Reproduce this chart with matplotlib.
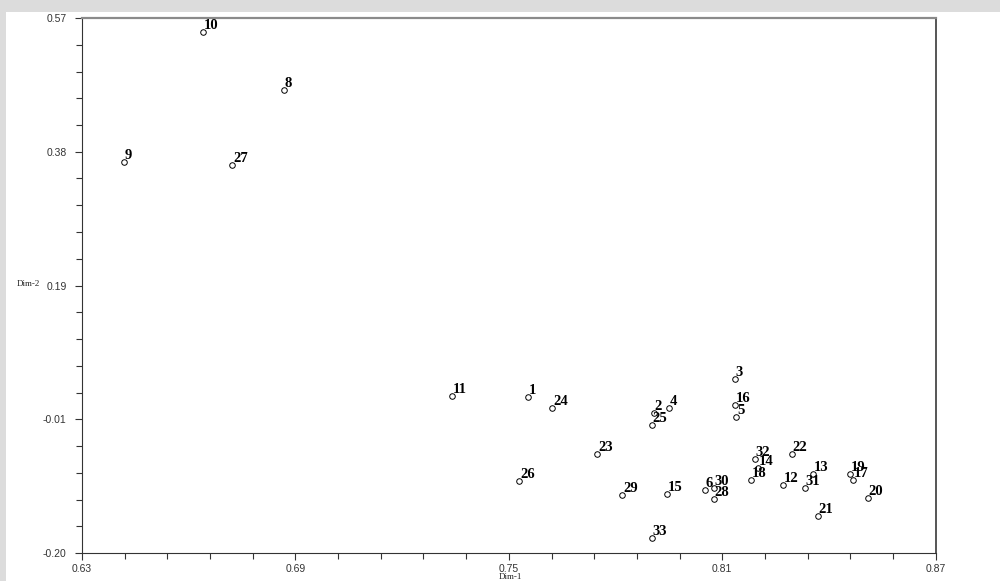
import matplotlib
matplotlib.use('Agg')
import matplotlib.pyplot as plt
from matplotlib.patches import Rectangle
from matplotlib.ticker import FixedLocator

# coordinates of the 32 items on the first two dimensions
labels = ['1', '2', '3', '4', '5', '6', '8', '9', '10', '11', '12', '13', '14', '15', '16', '17',
          '18', '19', '20', '21', '22', '23', '24', '25', '26', '27', '28', '29', '30', '31', '32', '33']
dim1 = [0.7553, 0.7908, 0.8135, 0.7950, 0.8139, 0.8051, 0.6868, 0.6417, 0.6639, 0.7339, 0.8270,
        0.8356, 0.8200, 0.7945, 0.8136, 0.8468, 0.8180, 0.8459, 0.8509, 0.8369, 0.8296, 0.7748,
        0.7622, 0.7902, 0.7529, 0.6722, 0.8076, 0.7819, 0.8076, 0.8332, 0.8192, 0.7902]
dim2 = [0.0249, 0.0015, 0.0500, 0.0082, -0.0043, -0.1094, 0.4668, 0.3623, 0.5503, 0.0264, -0.1017,
        -0.0870, -0.0777, -0.1151, 0.0130, -0.0950, -0.0945, -0.0868, -0.1209, -0.1468, -0.0575, -0.0575,
        0.0091, -0.0154, -0.0968, 0.3589, -0.1227, -0.1161, -0.1069, -0.1060, -0.0652, -0.1784]

xticks = [0.63, 0.69, 0.75, 0.81, 0.87]
yticks = [-0.20, -0.0075, 0.185, 0.3775, 0.57]
ytick_labels = ['-0.20', '-0.01', '0.19', '0.38', '0.57']

fig = plt.figure(figsize=(10, 5.81), dpi=100)
fig.patch.set_facecolor('white')
# grey window frame on top and left
fig.patches.append(Rectangle((0, 1 - 12 / 581), 1, 12 / 581, transform=fig.transFigure,
                             facecolor='#dcdcdc', edgecolor='none', zorder=0))
fig.patches.append(Rectangle((0, 0), 6 / 1000, 1, transform=fig.transFigure,
                             facecolor='#dcdcdc', edgecolor='none', zorder=0))

ax = fig.add_axes([0.082, 28 / 581, 0.8537, 535 / 581])
ax.plot(dim1, dim2, 'o', markersize=4, markerfacecolor='white', markeredgecolor='black',
        markeredgewidth=0.7, linestyle='none', clip_on=False)
for lab, x, y in zip(labels, dim1, dim2):
    ax.annotate(lab, (x, y), xytext=(0.6, 2.2), textcoords='offset points',
                ha='left', va='baseline', fontsize=10.5, fontweight='bold',
                family='Liberation Serif', color='black')

ax.set_xlim(0.63, 0.87)
ax.set_ylim(-0.20, 0.57)
ax.xaxis.set_major_locator(FixedLocator(xticks))
ax.xaxis.set_minor_locator(FixedLocator([0.63 + i * 0.012 for i in range(21)]))
ax.set_xticklabels([f'{t:.2f}' for t in xticks])
ax.yaxis.set_major_locator(FixedLocator(yticks))
ax.yaxis.set_minor_locator(FixedLocator([-0.20 + i * 0.77 / 20 for i in range(21)]))
ax.set_yticklabels(ytick_labels)

ax.tick_params(which='both', direction='out', color='#333333', width=0.8,
               labelsize=7.5, labelcolor='#333333')
ax.tick_params(which='major', length=5, pad=6)
ax.tick_params(which='minor', length=4)
ax.tick_params(axis='x', which='major', pad=3)
for t in ax.get_xticklabels() + ax.get_yticklabels():
    t.set_family('Liberation Sans')

ax.spines['left'].set_color('#333333')
ax.spines['bottom'].set_color('#333333')
ax.spines['top'].set_color('#8a8a8a')
ax.spines['top'].set_linewidth(1.6)
ax.spines['right'].set_color('#555555')
ax.spines['right'].set_linewidth(1.4)

fig.text(0.510, 1 - 577 / 581, 'Dim-1', ha='center', va='center', fontsize=6.5,
         family='Liberation Serif', color='#222222')
fig.text(0.017, 1 - 284.5 / 581, 'Dim-2', ha='left', va='center', fontsize=6.5,
         family='Liberation Serif', color='#222222')

plt.savefig('out.png', dpi=100)
